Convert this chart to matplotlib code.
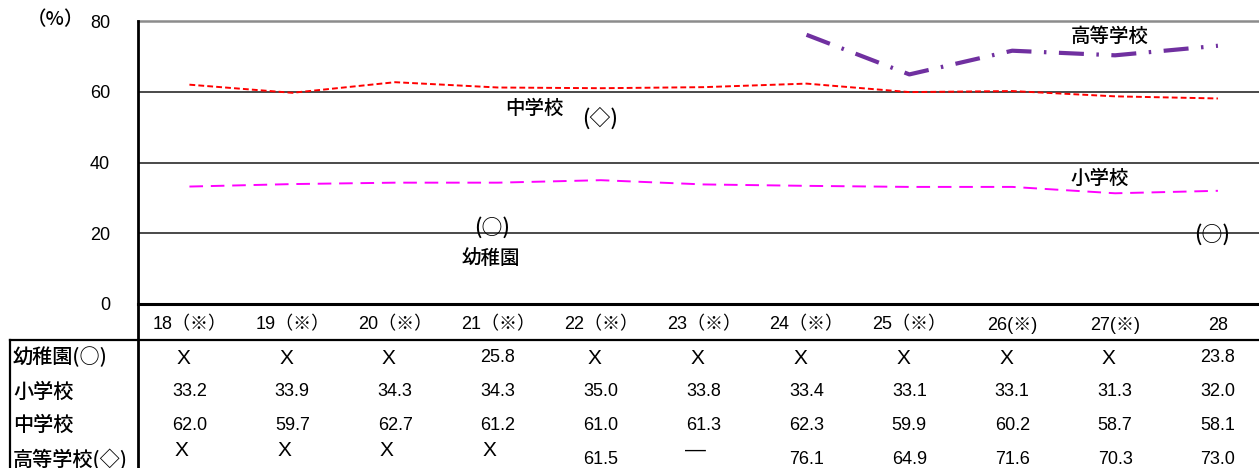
import math
import matplotlib
matplotlib.use("Agg")
import matplotlib.pyplot as plt
import matplotlib.transforms as mtransforms
from matplotlib.lines import Line2D

plt.rcParams['font.family'] = ['Noto Sans CJK JP', 'DejaVu Sans']
NUM_FONT = ['Liberation Sans', 'Noto Sans CJK JP', 'DejaVu Sans']
JP_FONT = ['Noto Sans CJK JP', 'DejaVu Sans']

NAN = math.nan

# survey years (Heisei); ※ marks years with a different survey basis
years = ["18（※）", "19（※）", "20（※）", "21（※）", "22（※）", "23（※）",
         "24（※）", "25（※）", "26(※)", "27(※)", "28"]

# percentages by school type
kinder = [NAN, NAN, NAN, 25.8, NAN, NAN, NAN, NAN, NAN, NAN, 23.8]
elementary = [33.2, 33.9, 34.3, 34.3, 35.0, 33.8, 33.4, 33.1, 33.1, 31.3, 32.0]
junior = [62.0, 59.7, 62.7, 61.2, 61.0, 61.3, 62.3, 59.9, 60.2, 58.7, 58.1]
high = [NAN, NAN, NAN, NAN, 61.5, NAN, 76.1, 64.9, 71.6, 70.3, 73.0]

# text shown in the table where there is no value
kinder_missing = ["X", "X", "X", "", "X", "X", "X", "X", "X", "X", ""]
high_missing = ["X", "X", "X", "X", "", "—", "", "", "", "", ""]

row_labels = ["幼稚園(○)", "小学校", "中学校", "高等学校(◇)"]

W, H = 1259, 468
fig = plt.figure(figsize=(W / 100, H / 100), dpi=100)

ax_left, ax_right, ax_top, ax_bottom = 138, 1259, 21, 304
ax = fig.add_axes([ax_left / W, 1 - ax_bottom / H,
                   (ax_right - ax_left) / W, (ax_bottom - ax_top) / H])

n = len(years)
step = 102.85
ax.set_xlim(-0.5, -0.5 + (ax_right - ax_left) / step)
ax.set_ylim(0, 80)

# horizontal grid
for yv in (20, 40, 60):
    ax.axhline(yv, color="#3a3a3a", lw=1.3, zorder=1)
ax.axhline(80, color="#8c8c8c", lw=1.8, zorder=1, clip_on=False)

for s in ("top", "right"):
    ax.spines[s].set_visible(False)
ax.spines["left"].set_linewidth(2.0)
ax.spines["bottom"].set_linewidth(2.2)
ax.spines["left"].set_color("black")
ax.spines["bottom"].set_color("black")

ax.set_yticks([0, 20, 40, 60, 80])
ax.set_yticklabels(["0", "20", "40", "60", "80"], fontsize=13, family=NUM_FONT)
ax.tick_params(axis="y", length=0, pad=20)
ax.set_xticks([])

x = list(range(n))

# series lines
ax.plot(x, junior, color="#ff0000", lw=1.4, dashes=(3.0, 1.6), zorder=3)
ax.plot(x, elementary, color="#ff00ff", lw=1.4, dashes=(7.0, 4.0), zorder=3)
ax.plot(x, high, color="#7030a0", lw=3.0, dashes=(6.0, 3.0, 0.6, 3.0), zorder=3)

# point markers written as text
for i, v in enumerate(kinder):
    if not math.isnan(v):
        ax.annotate("(○)", xy=(i, v), xytext=(-6, -15), textcoords="offset pixels",
                    ha="center", va="center", fontsize=15, zorder=4,
                    family=JP_FONT, fontweight="medium")
ax.annotate("(◇)", xy=(4, high[4]), xytext=(-1, -32), textcoords="offset pixels",
            ha="center", va="center", fontsize=15, zorder=4,
            family=JP_FONT, fontweight="medium")

# series names
label_kw = dict(ha="center", va="center", fontsize=14, family=JP_FONT,
                fontweight="medium")
ax.text(3.35, 55.4, "中学校", **label_kw)
ax.text(8.95, 75.5, "高等学校", **label_kw)
ax.text(8.85, 35.6, "小学校", **label_kw)
ax.text(2.93, 13.0, "幼稚園", **label_kw)

fig.text(55 / W, 1 - 20 / H, "（%）", ha="center", va="center", fontsize=14,
         family=JP_FONT, fontweight="medium")

# data table below the axis
trans = mtransforms.blended_transform_factory(ax.transData, fig.transFigure)


def fy(px):
    return 1 - px / H


for i, lab in enumerate(years):
    ax.text(i, fy(325), lab, transform=trans, ha="center", va="center",
            fontsize=13, family=NUM_FONT, clip_on=False)


def fmt(v):
    return "" if math.isnan(v) else f"{v:.1f}"


num_kw = dict(transform=trans, ha="center", va="center", fontsize=13,
              family=NUM_FONT, clip_on=False)
mark_kw = dict(transform=trans, ha="center", va="center", fontsize=15,
               family=NUM_FONT, clip_on=False)
for i in range(n):
    # 幼稚園
    if kinder_missing[i]:
        ax.text(i - 0.06, fy(358), kinder_missing[i], **mark_kw)
    else:
        ax.text(i, fy(357), fmt(kinder[i]), **num_kw)
    ax.text(i, fy(392), fmt(elementary[i]), **num_kw)
    ax.text(i, fy(425), fmt(junior[i]), **num_kw)
    if high_missing[i]:
        ax.text(i - 0.08, fy(450), high_missing[i], **mark_kw)
    else:
        ax.text(i, fy(460), fmt(high[i]), **num_kw)

for lab, yp in zip(row_labels, [357, 392, 425, 459]):
    fig.text(13 / W, fy(yp), lab, ha="left", va="center", fontsize=14.5,
             family=JP_FONT, fontweight="medium")

# table borders
fig.add_artist(Line2D([10 / W, 1.0], [fy(340), fy(340)], color="black", lw=1.6))
fig.add_artist(Line2D([10 / W, 10 / W], [fy(340), 0], color="black", lw=1.6))
fig.add_artist(Line2D([ax_left / W, ax_left / W], [fy(ax_bottom), 0],
                      color="black", lw=2.0))

fig.savefig("out.png", dpi=100)
